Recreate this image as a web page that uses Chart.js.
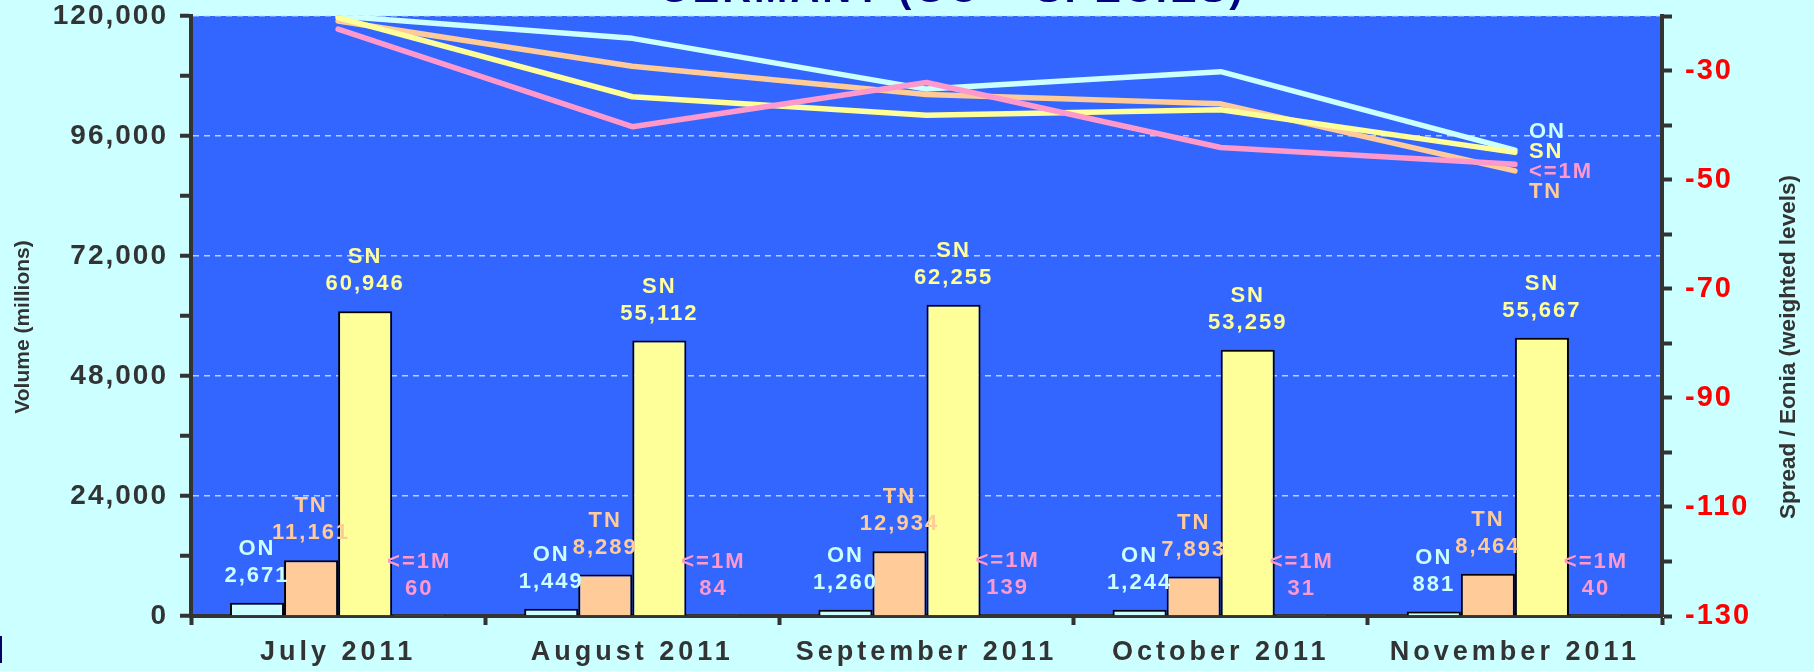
<!DOCTYPE html>
<html>
<head>
<meta charset="utf-8">
<title>Germany (GC + Species)</title>
<script src="https://cdn.jsdelivr.net/npm/chart.js@4.4.0/dist/chart.umd.min.js"></script>
<style>
  html, body { margin: 0; padding: 0; background: #ccffff; }
  canvas { display: block; }
</style>
</head>
<body>
<canvas id="chart" width="1814" height="671"></canvas>
<script>
// --- values ---
const months = ['July 2011', 'August 2011', 'September 2011', 'October 2011', 'November 2011'];

// volume in millions (bars, left axis)
const volON = [2671, 1449, 1260, 1244, 881];
const volTN = [11161, 8289, 12934, 7893, 8464];
const volSN = [60946, 55112, 62255, 53259, 55667];
const volUpTo1M = [60, 84, 139, 31, 40];

// spread / eonia, weighted levels (lines, right axis)
const sprON = [-20.0, -24.1, -33.4, -30.2, -44.6];
const sprTN = [-20.9, -29.2, -34.4, -36.1, -48.4];
const sprSN = [-20.3, -34.8, -38.2, -37.2, -45.0];
const sprUpTo1M = [-22.4, -40.3, -32.2, -44.1, -47.2];

// labelled ticks
const volTicks = [0, 24000, 48000, 72000, 96000, 120000];
const spreadTicks = [-130, -110, -90, -70, -50, -30];

const FONT = '"Liberation Sans", Arial, sans-serif';
const COL = { ON: '#ccffff', TN: '#ffcc99', SN: '#ffff99', M1: '#ff99cc' };
const fmt = v => v.toLocaleString('en-US');

// canvas has no letter-spacing option in Chart.js, so wrap drawLabels per scale
const tickSpacing = { x: '4px', y: '2px', y1: '2px' };
const spacedTicks = {
  id: 'spacedTicks',
  afterLayout(chart) {
    Object.values(chart.scales).forEach(s => {
      if (s._spaced) return;
      const orig = s.drawLabels;
      s.drawLabels = function (area) {
        this.ctx.save();
        this.ctx.letterSpacing = tickSpacing[this.id] || '0px';
        orig.call(this, area);
        this.ctx.restore();
      };
      s._spaced = true;
    });
  }
};

const plotBg = {
  id: 'plotBg',
  beforeDraw(chart) {
    const { ctx, chartArea: a } = chart;
    ctx.save();
    ctx.fillStyle = '#3366ff';
    ctx.fillRect(a.left, a.top, a.right - a.left, a.bottom - a.top);
    ctx.restore();
  }
};

// name + value above every bar, names at the end of each line
const dataLabels = {
  id: 'dataLabels',
  afterDatasetsDraw(chart) {
    const ctx = chart.ctx;
    ctx.save();
    ctx.font = `bold 22px ${FONT}`;
    ctx.letterSpacing = '2px';
    ctx.textBaseline = 'middle';

    ctx.textAlign = 'center';
    chart.data.datasets.forEach((ds, i) => {
      if (ds.type !== 'bar') return;
      chart.getDatasetMeta(i).data.forEach((bar, j) => {
        ctx.fillStyle = ds.labelColor;
        ctx.fillText(ds.label, bar.x, bar.y - 54);
        ctx.fillText(fmt(ds.data[j]), bar.x, bar.y - 27);
      });
    });

    const ends = [];
    chart.data.datasets.forEach((ds, i) => {
      if (ds.type !== 'line') return;
      const pts = chart.getDatasetMeta(i).data;
      const p = pts[pts.length - 1];
      ends.push({ label: ds.label, color: ds.borderColor, x: p.x, y: p.y });
    });
    ends.sort((a, b) => a.y - b.y);
    const mid = ends.reduce((s, e) => s + e.y, 0) / ends.length;
    ctx.textAlign = 'left';
    ends.forEach((e, k) => {
      ctx.fillStyle = e.color;
      ctx.fillText(e.label, e.x + 14, mid + 2 + (k - (ends.length - 1) / 2) * 20);
    });
    ctx.restore();
  }
};

// axis titles (right one reads bottom-up), clipped title, stray mark
const decorations = {
  id: 'decorations',
  afterDraw(chart) {
    const { ctx, width } = chart;
    ctx.save();
    ctx.fillStyle = '#333';
    ctx.font = `bold 21px ${FONT}`;
    ctx.textAlign = 'center';
    ctx.textBaseline = 'middle';
    ctx.translate(23, 327);
    ctx.rotate(-Math.PI / 2);
    ctx.fillText('Volume (millions)', 0, 0);
    ctx.restore();

    ctx.save();
    ctx.fillStyle = '#333';
    ctx.font = `bold 22.5px ${FONT}`;
    ctx.textAlign = 'center';
    ctx.textBaseline = 'middle';
    ctx.translate(width - 25, 347);
    ctx.rotate(-Math.PI / 2);
    ctx.fillText('Spread / Eonia (weighted levels)', 0, 0);
    ctx.restore();

    ctx.save();
    ctx.fillStyle = '#000080';
    ctx.font = `bold 40px ${FONT}`;
    ctx.letterSpacing = '3px';
    ctx.textAlign = 'center';
    ctx.textBaseline = 'alphabetic';
    ctx.fillText('GERMANY (GC + SPECIES)', 952, 2);
    ctx.fillStyle = '#000066';
    ctx.fillRect(0, 636, 2, 27);
    ctx.restore();
  }
};

const barDs = (label, data, color) => ({
  type: 'bar', label, data,
  backgroundColor: color, labelColor: color,
  borderColor: '#000', borderWidth: 2,
  barPercentage: 1, categoryPercentage: 0.735,
  yAxisID: 'y', order: 10
});
const lineDs = (label, data, color, order) => ({
  type: 'line', label, data,
  borderColor: color, borderWidth: 5.5,
  borderCapStyle: 'round', borderJoinStyle: 'round',
  pointRadius: 0, tension: 0, fill: false,
  yAxisID: 'y1', order
});

new Chart(document.getElementById('chart'), {
  data: {
    labels: months,
    datasets: [
      barDs('ON', volON, COL.ON),
      barDs('TN', volTN, COL.TN),
      barDs('SN', volSN, COL.SN),
      barDs('<=1M', volUpTo1M, COL.M1),
      lineDs('ON', sprON, COL.ON, 4),
      lineDs('TN', sprTN, COL.TN, 3),
      lineDs('SN', sprSN, COL.SN, 2),
      lineDs('<=1M', sprUpTo1M, COL.M1, 1)
    ]
  },
  options: {
    responsive: false,
    animation: false,
    layout: { padding: { top: 16, left: 0, right: 0, bottom: 0 } },
    plugins: { legend: { display: false }, tooltip: { enabled: false } },
    scales: {
      x: {
        offset: true,
        grid: { offset: true, drawOnChartArea: false, tickLength: 9, tickWidth: 4, tickColor: '#333' },
        border: { color: '#333', width: 4 },
        ticks: { color: '#333', font: { family: FONT, size: 27, weight: 'bold' }, padding: 11, maxRotation: 0, autoSkip: false },
        afterFit: s => { s.height = 55; s.paddingLeft = 0; s.paddingRight = 0; }
      },
      y: {
        position: 'left', min: 0, max: 120000,
        ticks: {
          stepSize: 12000, autoSkip: false,
          callback: v => volTicks.includes(v) ? fmt(v) : '',
          color: '#333', font: { family: FONT, size: 28, weight: 'bold' }, padding: 12
        },
        grid: {
          color: c => (c.tick && volTicks.includes(c.tick.value)) ? 'rgba(204,229,255,0.85)' : 'transparent',
          lineWidth: 1.5, tickColor: '#333', tickLength: 11, tickWidth: 4
        },
        border: { color: '#333', width: 4, dash: [6, 5] },
        afterFit: s => { s.width = 191; s.paddingTop = 0; s.paddingBottom = 0; }
      },
      y1: {
        position: 'right', min: -130, max: -20,
        ticks: {
          stepSize: 10, autoSkip: false,
          callback: v => spreadTicks.includes(v) ? String(v) : '',
          color: '#ff0000', font: { family: FONT, size: 29, weight: 'bold' }, padding: 13
        },
        grid: { drawOnChartArea: false, tickColor: '#333', tickLength: 10, tickWidth: 4 },
        border: { color: '#333', width: 4 },
        afterFit: s => { s.width = 152; s.paddingTop = 0; s.paddingBottom = 0; }
      }
    }
  },
  plugins: [spacedTicks, plotBg, dataLabels, decorations]
});
</script>
</body>
</html>
